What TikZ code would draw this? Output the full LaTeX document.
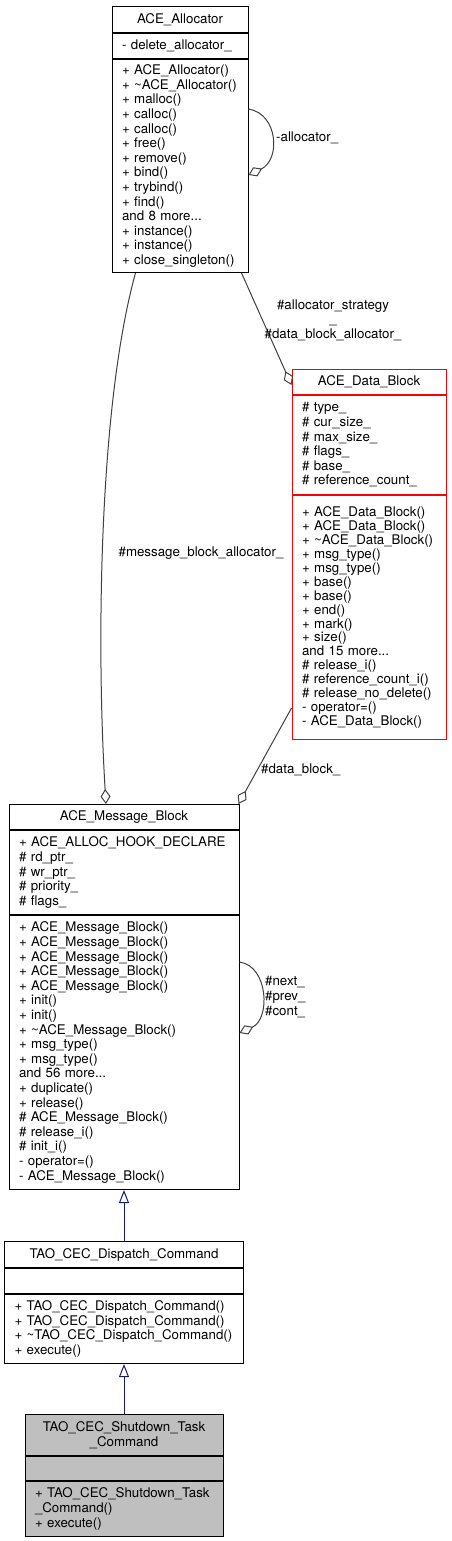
\documentclass[tikz,border=0pt]{standalone}
\usepackage{fontspec}
\setmainfont{TeX Gyre Heros}
\usepackage{tikz}
\usetikzlibrary{positioning,arrows.meta}
\definecolor{edgegrey}{HTML}{404040}
\definecolor{navyedge}{HTML}{191970}
\definecolor{shade}{HTML}{BFBFBF}

\begin{document}
\begin{tikzpicture}[x=1pt,y=-1pt,
    every node/.style={font=\fontsize{13.3}{14.6}\selectfont},
    box/.style={draw=black, fill=white, line width=1pt, inner xsep=10pt,
        inner ysep=0pt, minimum height=#1},
    ttl/.style={box=#1, align=center},
    part/.style={box=#1, align=left},
    lbl/.style={inner sep=0pt},
    uses/.style={draw=edgegrey, line width=1pt,
        -{Diamond[open,length=15pt,width=10pt]}},
    isa/.style={draw=navyedge, line width=1pt,
        -{Triangle[open,length=13pt,width=10pt]}}]
    \useasboundingbox (0,0) rectangle (451,1541);

    % ACE_Allocator
    \node[ttl=26pt, text width=116pt, anchor=north] (allocn) at (180,6) {ACE\_Allocator};
    \node[part=25pt, text width=116pt, below=0pt of allocn] (alloca) {- delete\_allocator\_};
    \node[part=213pt, text width=116pt, below=0pt of alloca] (allocm) {%
        + ACE\_Allocator()\\
        + \textasciitilde ACE\_Allocator()\\
        + malloc()\\
        + calloc()\\
        + calloc()\\
        + free()\\
        + remove()\\
        + bind()\\
        + trybind()\\
        + find()\\
        and 8 more...\\
        + instance()\\
        + instance()\\
        + close\_singleton()};

    % ACE_Data_Block
    \node[ttl=25pt, text width=134pt, draw=red, anchor=north] (datan) at (369,369) {ACE\_Data\_Block};
    \node[part=99pt, text width=134pt, draw=red, below=0pt of datan] (dataa) {%
        \# type\_\\
        \# cur\_size\_\\
        \# max\_size\_\\
        \# flags\_\\
        \# base\_\\
        \# reference\_count\_};
    \node[part=244pt, text width=134pt, draw=red, below=0pt of dataa,
        font=\fontsize{13.3}{13.9}\selectfont] (datam) {%
        + ACE\_Data\_Block()\\
        + ACE\_Data\_Block()\\
        + \textasciitilde ACE\_Data\_Block()\\
        + msg\_type()\\
        + msg\_type()\\
        + base()\\
        + base()\\
        + end()\\
        + mark()\\
        + size()\\
        and 15 more...\\
        \# release\_i()\\
        \# reference\_count\_i()\\
        \# release\_no\_delete()\\
        - operator=()\\
        - ACE\_Data\_Block()};

    % ACE_Message_Block
    \node[ttl=25pt, text width=210pt, anchor=north] (msgn) at (124,804) {ACE\_Message\_Block};
    \node[part=84pt, text width=210pt, below=0pt of msgn] (msga) {%
        + ACE\_ALLOC\_HOOK\_DECLARE\\
        \# rd\_ptr\_\\
        \# wr\_ptr\_\\
        \# priority\_\\
        \# flags\_};
    \node[part=274pt, text width=210pt, below=0pt of msga] (msgm) {%
        + ACE\_Message\_Block()\\
        + ACE\_Message\_Block()\\
        + ACE\_Message\_Block()\\
        + ACE\_Message\_Block()\\
        + ACE\_Message\_Block()\\
        + init()\\
        + init()\\
        + \textasciitilde ACE\_Message\_Block()\\
        + msg\_type()\\
        + msg\_type()\\
        and 56 more...\\
        + duplicate()\\
        + release()\\
        \# ACE\_Message\_Block()\\
        \# release\_i()\\
        \# init\_i()\\
        - operator=()\\
        - ACE\_Message\_Block()};

    % TAO_CEC_Dispatch_Command
    \node[ttl=26pt, text width=219pt, anchor=north] (dispn) at (124,1241) {TAO\_CEC\_Dispatch\_Command};
    \node[part=25pt, text width=219pt, below=0pt of dispn] (dispa) {};
    \node[part=69pt, text width=219pt, below=0pt of dispa] (dispm) {%
        + TAO\_CEC\_Dispatch\_Command()\\
        + TAO\_CEC\_Dispatch\_Command()\\
        + \textasciitilde TAO\_CEC\_Dispatch\_Command()\\
        + execute()};

    % TAO_CEC_Shutdown_Task_Command
    \node[ttl=41pt, text width=178pt, fill=shade, anchor=north] (shutn) at (124,1414) {TAO\_CEC\_Shutdown\_Task\\\_Command};
    \node[part=24pt, text width=178pt, fill=shade, below=0pt of shutn] (shuta) {};
    \node[part=55pt, text width=178pt, fill=shade, below=0pt of shuta] (shutm) {%
        + TAO\_CEC\_Shutdown\_Task\\
        \_Command()\\
        + execute()};

    % usage edges
    \draw[uses] ([yshift=-50pt]allocm.north east) .. controls +(30,5) and +(32,-15) .. ([yshift=-116pt]allocm.north east);
    \node[lbl, anchor=west] (selfalloc) at (276,138) {-allocator\_};

    \draw[uses] ([xshift=130pt]allocm.south west) -- ([yshift=-16pt]datan.north west);
    \node[lbl, align=center] (stratlbl) at (333,320) {\#allocator\_strategy\\\_\\\#data\_block\_allocator\_};

    \draw[uses] ([xshift=24pt]allocm.south west) .. controls +(-36,130) and +(-10,-164) .. ([xshift=-18pt]msgn.north);
    \node[lbl] (msgalloc) at (201,553) {\#message\_block\_allocator\_};

    \draw[uses] ([yshift=32pt]datam.south west) -- ([xshift=-1pt]msgn.north east);
    \node[lbl, anchor=west] (datalbl) at (261,770) {\#data\_block\_};

    \draw[uses] ([yshift=-47pt]msgm.north east) .. controls +(29,4) and +(31,-14) .. ([yshift=-118pt]msgm.north east);
    \node[lbl, anchor=west, align=left] (chainlbl) at (265,997) {\#next\_\\\#prev\_\\\#cont\_};

    % inheritance
    \draw[isa] (dispn.north) -- (dispn.north |- msgm.south);
    \draw[isa] (shutn.north) -- (shutn.north |- dispm.south);
\end{tikzpicture}
\end{document}
